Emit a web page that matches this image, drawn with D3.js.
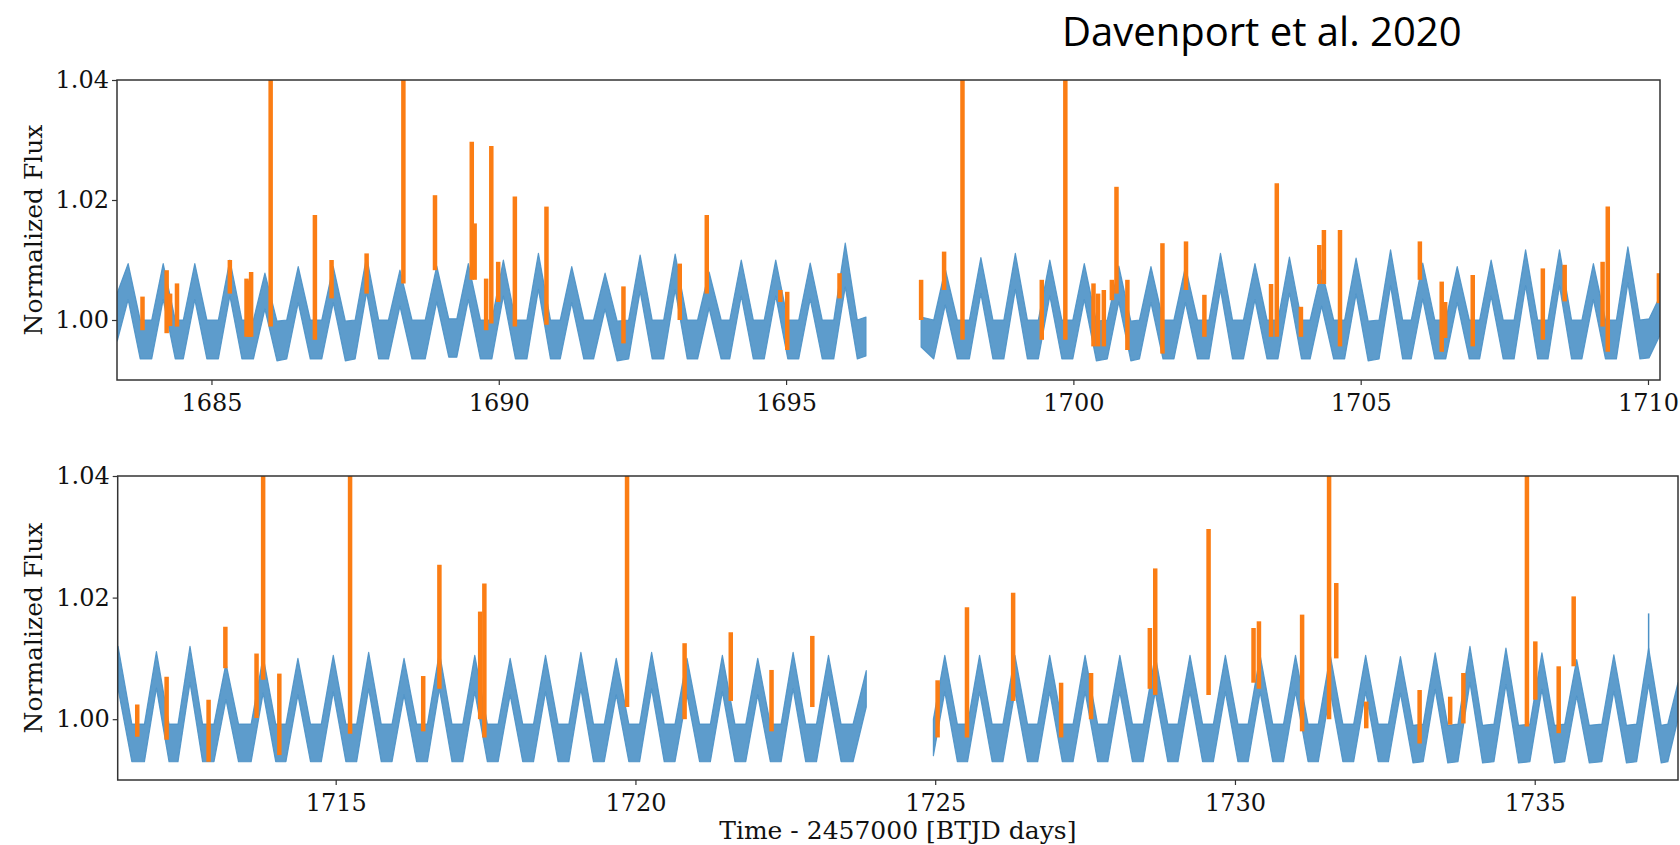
<!DOCTYPE html>
<html>
<head>
<meta charset="utf-8">
<script src="https://cdn.jsdelivr.net/npm/d3@7/dist/d3.min.js"></script>
<style>
  html, body { margin: 0; padding: 0; background: #fff; }
  svg { display: block; }
</style>
</head>
<body>
<svg id="chart" width="1680" height="845"></svg>
<script>
// light curve band: [time, lower edge, upper edge] at each peak / trough vertex
const topA = [
  [1683.36, 0.9965, 1.0045],
  [1683.55, 1.0034, 1.0094], [1683.76, 0.9935, 1.0000], [1683.96, 0.9935, 1.0000],
  [1684.16, 1.0034, 1.0094], [1684.37, 0.9935, 1.0000], [1684.51, 0.9935, 1.0000],
  [1684.71, 1.0034, 1.0094], [1684.92, 0.9935, 1.0000], [1685.12, 0.9935, 1.0000],
  [1685.32, 1.0040, 1.0100], [1685.53, 0.9935, 1.0000], [1685.73, 0.9935, 1.0000],
  [1685.93, 1.0018, 1.0078], [1686.14, 0.9932, 0.9998], [1686.31, 0.9935, 1.0000],
  [1686.51, 1.0029, 1.0089], [1686.72, 0.9935, 1.0000], [1686.92, 0.9935, 1.0000],
  [1687.12, 1.0029, 1.0089], [1687.33, 0.9932, 0.9998], [1687.50, 0.9935, 1.0000],
  [1687.70, 1.0046, 1.0106], [1687.91, 0.9935, 1.0000], [1688.08, 0.9935, 1.0000],
  [1688.28, 1.0023, 1.0083], [1688.49, 0.9935, 1.0000], [1688.72, 0.9935, 1.0000],
  [1688.92, 1.0030, 1.0090], [1689.13, 0.9938, 1.0002], [1689.27, 0.9938, 1.0002],
  [1689.47, 1.0034, 1.0094], [1689.68, 0.9935, 1.0000], [1689.88, 0.9935, 1.0000],
  [1690.08, 1.0040, 1.0100], [1690.29, 0.9935, 1.0000], [1690.49, 0.9935, 1.0000],
  [1690.69, 1.0051, 1.0111], [1690.90, 0.9935, 1.0000], [1691.07, 0.9935, 1.0000],
  [1691.27, 1.0029, 1.0089], [1691.48, 0.9935, 1.0000], [1691.65, 0.9935, 1.0000],
  [1691.85, 1.0018, 1.0078], [1692.06, 0.9932, 0.9998], [1692.26, 0.9935, 1.0000],
  [1692.46, 1.0048, 1.0108], [1692.67, 0.9935, 1.0000], [1692.87, 0.9935, 1.0000],
  [1693.07, 1.0050, 1.0110], [1693.28, 0.9935, 1.0000], [1693.46, 0.9935, 1.0000],
  [1693.66, 1.0020, 1.0080], [1693.87, 0.9935, 1.0000], [1694.02, 0.9935, 1.0000],
  [1694.22, 1.0040, 1.0100], [1694.43, 0.9935, 1.0000], [1694.62, 0.9935, 1.0000],
  [1694.82, 1.0040, 1.0100], [1695.03, 0.9935, 1.0000], [1695.22, 0.9935, 1.0000],
  [1695.42, 1.0035, 1.0095], [1695.63, 0.9935, 1.0000], [1695.83, 0.9935, 1.0000],
  [1696.03, 1.0055, 1.0128], [1696.24, 0.9935, 1.0000], [1696.39, 0.9940, 1.0005]
];
const topB = [
  [1697.35, 0.9955, 1.0005], [1697.57, 0.9935, 1.0000],
  [1697.77, 1.0025, 1.0085], [1697.98, 0.9935, 1.0000], [1698.19, 0.9935, 1.0000],
  [1698.39, 1.0044, 1.0104], [1698.60, 0.9935, 1.0000], [1698.79, 0.9935, 1.0000],
  [1698.99, 1.0051, 1.0111], [1699.20, 0.9935, 1.0000], [1699.39, 0.9935, 1.0000],
  [1699.59, 1.0040, 1.0100], [1699.80, 0.9935, 1.0000], [1699.99, 0.9935, 1.0000],
  [1700.19, 1.0034, 1.0094], [1700.40, 0.9932, 0.9998], [1700.59, 0.9935, 1.0000],
  [1700.79, 1.0030, 1.0090], [1701.00, 0.9932, 0.9998], [1701.15, 0.9935, 1.0000],
  [1701.35, 1.0029, 1.0089], [1701.56, 0.9935, 1.0000], [1701.75, 0.9935, 1.0000],
  [1701.95, 1.0029, 1.0089], [1702.16, 0.9935, 1.0000], [1702.36, 0.9935, 1.0000],
  [1702.56, 1.0051, 1.0111], [1702.77, 0.9935, 1.0000], [1702.96, 0.9935, 1.0000],
  [1703.16, 1.0034, 1.0094], [1703.37, 0.9935, 1.0000], [1703.56, 0.9935, 1.0000],
  [1703.76, 1.0045, 1.0105], [1703.97, 0.9935, 1.0000], [1704.12, 0.9935, 1.0000],
  [1704.32, 1.0023, 1.0083], [1704.53, 0.9935, 1.0000], [1704.72, 0.9935, 1.0000],
  [1704.92, 1.0043, 1.0103], [1705.13, 0.9932, 0.9998], [1705.32, 0.9935, 1.0000],
  [1705.52, 1.0057, 1.0117], [1705.73, 0.9935, 1.0000], [1705.88, 0.9935, 1.0000],
  [1706.08, 1.0035, 1.0095], [1706.29, 0.9935, 1.0000], [1706.48, 0.9935, 1.0000],
  [1706.68, 1.0029, 1.0089], [1706.89, 0.9935, 1.0000], [1707.07, 0.9935, 1.0000],
  [1707.27, 1.0040, 1.0100], [1707.48, 0.9935, 1.0000], [1707.67, 0.9935, 1.0000],
  [1707.87, 1.0057, 1.0117], [1708.08, 0.9935, 1.0000], [1708.26, 0.9935, 1.0000],
  [1708.46, 1.0057, 1.0117], [1708.67, 0.9935, 1.0000], [1708.85, 0.9935, 1.0000],
  [1709.05, 1.0034, 1.0094], [1709.26, 0.9935, 1.0000], [1709.45, 0.9935, 1.0000],
  [1709.65, 1.0062, 1.0122], [1709.86, 0.9935, 1.0000], [1710.02, 0.9937, 1.0002],
  [1710.21, 0.9975, 1.0040]
];
const botA = [
  [1711.37, 1.0050, 1.0120], [1711.60, 0.9930, 0.9992], [1711.81, 0.9930, 0.9992],
  [1712.01, 1.0051, 1.0111], [1712.22, 0.9930, 0.9992], [1712.37, 0.9930, 0.9992],
  [1712.57, 1.0060, 1.0120], [1712.78, 0.9930, 0.9992], [1712.97, 0.9930, 0.9992],
  [1713.17, 1.0032, 1.0092], [1713.38, 0.9930, 0.9992], [1713.59, 0.9930, 0.9992],
  [1713.79, 1.0043, 1.0103], [1714.00, 0.9930, 0.9992], [1714.17, 0.9930, 0.9992],
  [1714.37, 1.0040, 1.0100], [1714.58, 0.9930, 0.9992], [1714.76, 0.9930, 0.9992],
  [1714.96, 1.0045, 1.0105], [1715.17, 0.9930, 0.9992], [1715.35, 0.9930, 0.9992],
  [1715.55, 1.0050, 1.0110], [1715.76, 0.9930, 0.9992], [1715.94, 0.9930, 0.9992],
  [1716.14, 1.0040, 1.0100], [1716.35, 0.9930, 0.9992], [1716.53, 0.9930, 0.9992],
  [1716.73, 1.0050, 1.0110], [1716.94, 0.9930, 0.9992], [1717.12, 0.9930, 0.9992],
  [1717.32, 1.0045, 1.0105], [1717.53, 0.9930, 0.9992], [1717.71, 0.9930, 0.9992],
  [1717.91, 1.0040, 1.0100], [1718.12, 0.9930, 0.9992], [1718.30, 0.9930, 0.9992],
  [1718.50, 1.0045, 1.0105], [1718.71, 0.9930, 0.9992], [1718.89, 0.9930, 0.9992],
  [1719.09, 1.0050, 1.0110], [1719.30, 0.9930, 0.9992], [1719.48, 0.9930, 0.9992],
  [1719.68, 1.0040, 1.0100], [1719.89, 0.9930, 0.9992], [1720.07, 0.9930, 0.9992],
  [1720.27, 1.0050, 1.0110], [1720.48, 0.9930, 0.9992], [1720.66, 0.9930, 0.9992],
  [1720.86, 1.0040, 1.0100], [1721.07, 0.9930, 0.9992], [1721.25, 0.9930, 0.9992],
  [1721.45, 1.0045, 1.0105], [1721.66, 0.9930, 0.9992], [1721.84, 0.9930, 0.9992],
  [1722.04, 1.0040, 1.0100], [1722.25, 0.9930, 0.9992], [1722.43, 0.9930, 0.9992],
  [1722.63, 1.0050, 1.0110], [1722.84, 0.9930, 0.9992], [1723.02, 0.9930, 0.9992],
  [1723.22, 1.0045, 1.0105], [1723.43, 0.9930, 0.9992], [1723.63, 0.9930, 0.9992],
  [1723.85, 1.0020, 1.0080]
];
const botB = [
  [1724.97, 0.9940, 1.0000],
  [1725.16, 1.0045, 1.0105], [1725.37, 0.9930, 0.9992], [1725.54, 0.9930, 0.9992],
  [1725.74, 1.0045, 1.0105], [1725.95, 0.9930, 0.9992], [1726.13, 0.9930, 0.9992],
  [1726.33, 1.0045, 1.0105], [1726.54, 0.9930, 0.9992], [1726.71, 0.9930, 0.9992],
  [1726.91, 1.0045, 1.0105], [1727.12, 0.9930, 0.9992], [1727.30, 0.9930, 0.9992],
  [1727.50, 1.0045, 1.0105], [1727.71, 0.9930, 0.9992], [1727.88, 0.9930, 0.9992],
  [1728.08, 1.0045, 1.0105], [1728.29, 0.9930, 0.9992], [1728.47, 0.9930, 0.9992],
  [1728.67, 1.0045, 1.0105], [1728.88, 0.9930, 0.9992], [1729.05, 0.9930, 0.9992],
  [1729.25, 1.0045, 1.0105], [1729.46, 0.9930, 0.9992], [1729.64, 0.9930, 0.9992],
  [1729.84, 1.0045, 1.0105], [1730.05, 0.9930, 0.9992], [1730.22, 0.9930, 0.9992],
  [1730.42, 1.0045, 1.0105], [1730.63, 0.9930, 0.9992], [1730.81, 0.9930, 0.9992],
  [1731.01, 1.0045, 1.0105], [1731.22, 0.9930, 0.9992], [1731.39, 0.9930, 0.9992],
  [1731.59, 1.0045, 1.0105], [1731.80, 0.9930, 0.9992], [1731.98, 0.9930, 0.9992],
  [1732.18, 1.0045, 1.0105], [1732.39, 0.9930, 0.9992], [1732.56, 0.9930, 0.9992],
  [1732.76, 1.0043, 1.0103], [1732.97, 0.9928, 0.9990], [1733.14, 0.9930, 0.9992],
  [1733.34, 1.0049, 1.0109], [1733.55, 0.9928, 0.9990], [1733.72, 0.9930, 0.9992],
  [1733.92, 1.0060, 1.0120], [1734.13, 0.9928, 0.9990], [1734.32, 0.9930, 0.9992],
  [1734.52, 1.0057, 1.0117], [1734.73, 0.9928, 0.9990], [1734.92, 0.9930, 0.9992],
  [1735.12, 1.0049, 1.0109], [1735.33, 0.9928, 0.9990], [1735.50, 0.9930, 0.9992],
  [1735.70, 1.0038, 1.0098], [1735.91, 0.9928, 0.9990], [1736.12, 0.9930, 0.9992],
  [1736.32, 1.0046, 1.0106], [1736.53, 0.9928, 0.9990], [1736.70, 0.9930, 0.9992],
  [1736.90, 1.0057, 1.0117], [1737.11, 0.9928, 0.9990], [1737.22, 0.9930, 0.9992],
  [1737.39, 1.0000, 1.0060]
];

// single noise spikes poking out of the band: [time, from, to]
const spikesBot = [[1736.90, 1.0110, 1.0174]];

// flares: [time, base flux, peak flux]  (peaks above 1.04 run off the top)
const flaresTop = [
  [1683.80, 0.9983, 1.0039], [1684.22, 0.9978, 1.0083], [1684.28, 0.9990, 1.0044], [1684.40, 0.9989, 1.0061],
  [1685.32, 1.0044, 1.0100], [1685.61, 0.9972, 1.0069], [1685.66, 0.9972, 1.0066], [1685.69, 0.9972, 1.0080],
  [1686.03, 0.9989, 1.0500], [1686.80, 0.9967, 1.0175], [1687.09, 1.0036, 1.0100], [1687.70, 1.0044, 1.0111],
  [1688.34, 1.0061, 1.0500], [1688.89, 1.0083, 1.0208], [1689.53, 1.0067, 1.0297], [1689.58, 1.0067, 1.0161],
  [1689.78, 0.9983, 1.0069], [1689.87, 0.9994, 1.0290], [1689.99, 1.0030, 1.0097], [1690.28, 0.9989, 1.0206],
  [1690.83, 0.9992, 1.0189], [1692.17, 0.9961, 1.0056], [1693.15, 1.0000, 1.0094], [1693.62, 1.0044, 1.0175],
  [1694.90, 1.0030, 1.0050], [1695.02, 0.9950, 1.0047], [1695.93, 1.0036, 1.0078],
  [1697.35, 1.0000, 1.0067], [1697.75, 1.0050, 1.0114], [1698.07, 0.9967, 1.0500], [1699.45, 0.9967, 1.0067],
  [1699.86, 0.9967, 1.0500], [1700.35, 0.9956, 1.0061], [1700.43, 0.9956, 1.0044], [1700.53, 0.9956, 1.0050],
  [1700.67, 1.0033, 1.0067], [1700.75, 1.0044, 1.0222], [1700.94, 0.9950, 1.0067], [1701.55, 0.9944, 1.0128],
  [1701.96, 1.0050, 1.0131], [1702.28, 0.9972, 1.0042], [1703.44, 0.9972, 1.0060], [1703.54, 0.9972, 1.0228],
  [1703.96, 0.9972, 1.0022], [1704.28, 1.0060, 1.0125], [1704.36, 1.0060, 1.0150], [1704.64, 0.9956, 1.0150],
  [1706.03, 1.0067, 1.0131], [1706.41, 0.9947, 1.0064], [1706.47, 0.9970, 1.0030], [1706.95, 0.9956, 1.0075],
  [1708.17, 0.9967, 1.0086], [1708.55, 1.0031, 1.0092], [1709.21, 0.9989, 1.0097], [1709.30, 0.9947, 1.0189],
  [1710.19, 1.0028, 1.0078]
];
const flaresBot = [
  [1711.69, 0.9971, 1.0024], [1712.18, 0.9966, 1.0070], [1712.88, 0.9930, 1.0032], [1713.16, 1.0084, 1.0152],
  [1713.68, 1.0002, 1.0108], [1713.79, 1.0065, 1.0500], [1714.06, 0.9941, 1.0075],
  [1715.24, 0.9976, 1.0500], [1716.46, 0.9980, 1.0071], [1716.73, 1.0050, 1.0254], [1717.41, 1.0000, 1.0177],
  [1717.48, 0.9970, 1.0223], [1719.86, 1.0020, 1.0500], [1720.82, 1.0000, 1.0125], [1721.59, 1.0030, 1.0143],
  [1722.27, 0.9980, 1.0081], [1722.95, 1.0020, 1.0137],
  [1725.04, 0.9970, 1.0064], [1725.53, 0.9970, 1.0184], [1726.30, 1.0030, 1.0208], [1727.10, 0.9970, 1.0060],
  [1727.60, 1.0000, 1.0076], [1728.58, 1.0050, 1.0150], [1728.67, 1.0040, 1.0248], [1729.56, 1.0040, 1.0313],
  [1730.31, 1.0060, 1.0150], [1730.40, 1.0050, 1.0161], [1731.12, 0.9980, 1.0172], [1731.57, 1.0000, 1.0500],
  [1731.69, 1.0100, 1.0224], [1732.19, 0.9985, 1.0029], [1733.08, 0.9960, 1.0048], [1733.59, 0.9991, 1.0037],
  [1733.81, 0.9993, 1.0076], [1734.87, 0.9988, 1.0500], [1735.01, 1.0032, 1.0128], [1735.40, 0.9977, 1.0087],
  [1735.65, 1.0087, 1.0202]
];

const xTicksTop = [1685, 1690, 1695, 1700, 1705, 1710];
const xTicksBot = [1715, 1720, 1725, 1730, 1735];
const yTicks = [1.00, 1.02, 1.04];
const xLimTop = [1683.356, 1710.209];
const xLimBot = [1711.364, 1737.39];
const yLim = [0.99, 1.04];

const title = 'Davenport et al. 2020';
const yLabel = 'Normalized Flux';
const xLabel = 'Time - 2457000 [BTJD days]';

const BLUE = '#4b91c6';
const ORANGE = '#fb7d14';
const FRAME = '#333';
const SERIF = "'DejaVu Serif', serif";

const svg = d3.select('#chart');
svg.append('rect').attr('width', 1680).attr('height', 845).attr('fill', '#fff');

function drawPanel(id, box, xLim, segments, spikes, flares, xTicks) {
  const x = d3.scaleLinear().domain(xLim).range([box.left, box.right]);
  const y = d3.scaleLinear().domain(yLim).range([box.bottom, box.top]);

  svg.append('clipPath').attr('id', 'clip-' + id)
    .append('rect')
    .attr('x', box.left).attr('y', box.top)
    .attr('width', box.right - box.left).attr('height', box.bottom - box.top);

  const plot = svg.append('g').attr('clip-path', `url(#clip-${id})`);

  // noisy light curve drawn as a band
  const band = d3.area()
    .x(d => x(d[0]))
    .y0(d => y(d[1]))
    .y1(d => y(d[2]));

  segments.forEach(seg => {
    plot.append('path')
      .attr('d', band(seg))
      .attr('fill', BLUE)
      .attr('fill-opacity', 0.9)
      .attr('stroke', BLUE)
      .attr('stroke-opacity', 0.9)
      .attr('stroke-width', 1.2)
      .attr('stroke-linejoin', 'round');
  });

  plot.selectAll('line.spike')
    .data(spikes)
    .enter()
    .append('line')
    .attr('class', 'spike')
    .attr('x1', d => x(d[0])).attr('x2', d => x(d[0]))
    .attr('y1', d => y(d[1])).attr('y2', d => y(d[2]))
    .attr('stroke', BLUE)
    .attr('stroke-width', 1.5);

  // flares
  plot.selectAll('line.flare')
    .data(flares)
    .enter()
    .append('line')
    .attr('class', 'flare')
    .attr('x1', d => x(d[0])).attr('x2', d => x(d[0]))
    .attr('y1', d => y(d[1])).attr('y2', d => y(d[2]))
    .attr('stroke', ORANGE)
    .attr('stroke-width', 4.5);

  // x axis
  const gx = svg.append('g')
    .attr('transform', `translate(0,${box.bottom})`)
    .call(d3.axisBottom(x).tickValues(xTicks).tickFormat(d3.format('d')).tickSize(5).tickPadding(9));
  gx.select('.domain').remove();
  gx.selectAll('line').attr('stroke', FRAME).attr('stroke-width', 1.2);
  gx.selectAll('text').attr('fill', '#111').style('font-family', SERIF).style('font-size', '24px');

  // y axis
  const gy = svg.append('g')
    .attr('transform', `translate(${box.left},0)`)
    .call(d3.axisLeft(y).tickValues(yTicks).tickFormat(d3.format('.2f')).tickSize(5).tickPadding(3));
  gy.select('.domain').remove();
  gy.selectAll('line').attr('stroke', FRAME).attr('stroke-width', 1.2);
  gy.selectAll('text').attr('fill', '#111').style('font-family', SERIF).style('font-size', '24px');

  // frame
  svg.append('rect')
    .attr('x', box.left).attr('y', box.top)
    .attr('width', box.right - box.left).attr('height', box.bottom - box.top)
    .attr('fill', 'none').attr('stroke', FRAME).attr('stroke-width', 1.5);

  // y label
  svg.append('text')
    .attr('transform', `translate(42,${(box.top + box.bottom) / 2}) rotate(-90)`)
    .attr('text-anchor', 'middle')
    .attr('fill', '#111')
    .style('font-family', SERIF)
    .style('font-size', '25px')
    .text(yLabel);
}

drawPanel('top', { left: 117, right: 1660, top: 80, bottom: 380 }, xLimTop, [topA, topB], [], flaresTop, xTicksTop);
drawPanel('bot', { left: 117.7, right: 1678, top: 476, bottom: 780 }, xLimBot, [botA, botB], spikesBot, flaresBot, xTicksBot);

svg.append('text')
  .attr('x', (117.7 + 1678) / 2)
  .attr('y', 839)
  .attr('text-anchor', 'middle')
  .attr('fill', '#111')
  .style('font-family', SERIF)
  .style('font-size', '25px')
  .text(xLabel);

svg.append('text')
  .attr('x', 1062)
  .attr('y', 46)
  .attr('fill', '#000')
  .style('font-family', "'Open Sans', 'Noto Sans', sans-serif")
  .style('font-size', '40px')
  .text(title);
</script>
</body>
</html>
